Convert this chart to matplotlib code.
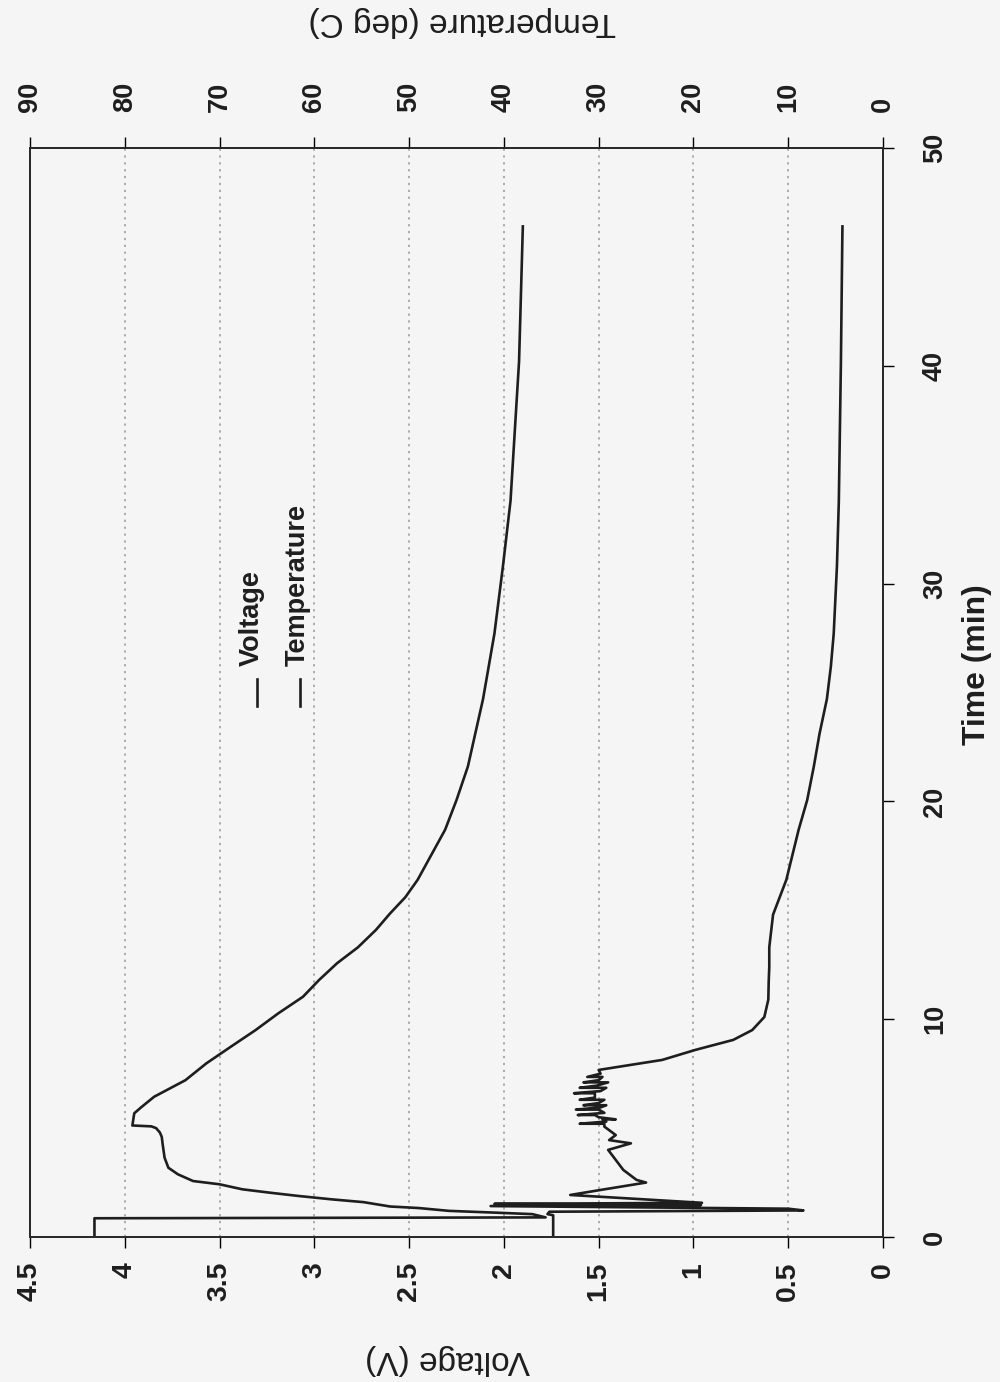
import matplotlib
matplotlib.use('Agg')
import matplotlib.pyplot as plt
from matplotlib import font_manager
from matplotlib.lines import Line2D

# voltage trace (V) against time (min)
volt_time = [0, 1.0, 1.05, 1.16, 1.22, 1.30, 1.42, 1.47, 1.52, 1.57, 1.93, 2.16, 2.5, 2.62,
             3.08, 3.54, 4.0, 4.3, 4.45, 4.68, 5.07,
             5.2, 5.2, 5.3, 5.4, 5.4, 5.5, 5.6, 5.6, 5.7, 5.85, 5.85, 5.95, 6.05, 6.05, 6.15,
             6.3, 6.3, 6.4, 6.6, 6.6, 6.7, 6.85, 6.85, 6.95, 7.1, 7.1, 7.2, 7.35, 7.35, 7.5,
             7.67, 8.13, 8.59, 9.05, 9.5, 10.1, 10.9,
             11.7, 12.4, 13.3, 14.8, 16.4, 18.7, 20.06, 21.6, 23.1, 24.7, 26.2, 27.7, 30.8,
             33.8, 40.2, 46.4]
voltage = [1.74, 1.74, 1.77, 1.76, 0.42, 0.50, 2.07, 0.96, 2.05, 0.955, 1.65, 1.49, 1.25, 1.30,
           1.37, 1.41, 1.45, 1.33, 1.445, 1.41, 1.47,
           1.47, 1.60, 1.46, 1.48, 1.41, 1.50, 1.52, 1.61, 1.47, 1.50, 1.62, 1.49, 1.46, 1.58, 1.50,
           1.47, 1.60, 1.52, 1.52, 1.63, 1.49, 1.46, 1.60, 1.51, 1.45, 1.58, 1.50, 1.48, 1.56, 1.49,
           1.50, 1.165, 0.99, 0.79, 0.69, 0.626, 0.605,
           0.603, 0.60, 0.60, 0.58, 0.51, 0.445, 0.40, 0.365, 0.335, 0.296, 0.275, 0.26, 0.243,
           0.233, 0.222, 0.214]

# temperature trace (deg C) against time (min)
temp_time = [0, 0.86, 0.90, 1.05, 1.12, 1.2, 1.33, 1.4, 1.6, 1.73, 1.89, 2.03, 2.19, 2.42,
             2.57, 2.88, 3.18, 3.64, 4.25, 4.6, 4.8, 5.0, 5.08, 5.12, 5.68, 5.98, 6.44, 7.2,
             7.97, 8.74, 9.5, 10.27, 11.03, 11.8, 12.57, 13.3, 14.1, 14.86, 15.6, 16.4, 18.7,
             20.06, 21.6, 24.7, 27.7, 30.8, 33.8, 40.2, 46.4]
temperature = [83.2, 83.2, 35.6, 37.0, 41.0, 45.8, 49.0, 52.0, 54.8, 58.2, 61.8, 64.6, 67.6, 70.0,
               72.8, 74.4, 75.4, 75.8, 76.0, 76.1, 76.3, 76.7, 77.2, 79.2, 79.0, 78.2, 76.9, 73.6,
               71.4, 68.8, 66.2, 63.8, 61.2, 59.5, 57.6, 55.4, 53.5, 52.0, 50.4, 49.1, 46.2,
               45.0, 43.8, 42.2, 41.0, 40.1, 39.3, 38.4, 38.0]

volt_ticks = [0, 0.5, 1, 1.5, 2, 2.5, 3, 3.5, 4, 4.5]
volt_labels = ['0', '0.5', '1', '1.5', '2', '2.5', '3', '3.5', '4', '4.5']
temp_ticks = [0, 10, 20, 30, 40, 50, 60, 70, 80, 90]
time_ticks = [0, 10, 20, 30, 40, 50]

names = {f.name for f in font_manager.fontManager.ttflist}
if 'Liberation Sans Narrow' in names:
    NARROW, k = 'Liberation Sans Narrow', 1.0
else:
    NARROW, k = 'Liberation Sans', 0.85

BG = '#f5f5f5'
INK = '#1e1e1e'

fig = plt.figure(figsize=(10, 13.82), dpi=100, facecolor=BG)
ax = fig.add_axes([0.030, 145 / 1382, 0.853, 1089 / 1382], facecolor=BG)

ax.plot(voltage, volt_time, color=INK, lw=1.9)
ax.set_xlim(4.5, 0)
ax.set_ylim(0, 50)
ax.set_xticks(volt_ticks)
ax.set_xticklabels(volt_labels)
ax.set_yticks(time_ticks)
ax.yaxis.tick_right()
ax.grid(axis='x', linestyle=(0, (1.5, 3)), color='#999999', lw=1.1)
ax.grid(axis='y', visible=False)
ax.tick_params(axis='x', direction='out', length=8, width=1, pad=10, labelrotation=90,
               labelsize=24 * k, labelcolor=INK, labelfontfamily=NARROW)
ax.tick_params(axis='y', direction='out', length=8, width=1, pad=20, labelrotation=90,
               labelsize=23 * k, labelcolor=INK, labelfontfamily=NARROW)
for lab in ax.get_xticklabels() + ax.get_yticklabels():
    lab.set_fontweight('bold')
for lab in ax.get_yticklabels():
    lab.set_verticalalignment('center')

ax2 = ax.twiny()
ax2.plot(temperature, temp_time, color=INK, lw=1.9)
ax2.set_xlim(90, 0)
ax2.set_xticks(temp_ticks)
ax2.tick_params(axis='x', direction='out', length=8, width=1, pad=18, labelrotation=90,
                labelsize=23 * k, labelcolor=INK, labelfontfamily=NARROW)
for lab in ax2.get_xticklabels():
    lab.set_fontweight('bold')

for a in (ax, ax2):
    for s in a.spines.values():
        s.set_color('#2a2a2a')
        s.set_linewidth(1.4)

# legend, written sideways like the rest of the page
for xf, lx, txt in [(0.2605, 0.2657, 'Voltage'), (0.3135, 0.3165, 'Temperature')]:
    ax.add_line(Line2D([lx, lx], [0.4875, 0.5125], transform=ax.transAxes, color=INK, lw=1.9))
    ax.text(xf, 0.524, txt, transform=ax.transAxes, rotation=90, ha='center', va='bottom',
            fontsize=19.5, fontweight='bold', family='Liberation Sans', color=INK)

fig.text(0.447, 1 - 1360 / 1382, 'Voltage (V)', rotation=180, ha='center', va='center',
         fontsize=24, family='Liberation Sans', color=INK)
fig.text(0.462, 1 - 22 / 1382, 'Temperature (deg C)', rotation=180, ha='center', va='center',
         fontsize=24, family='Liberation Sans', color=INK)
fig.text(0.977, 1 - 665 / 1382, 'Time (min)', rotation=90, ha='center', va='center',
         fontsize=27 * k, fontweight='bold', family=NARROW, color=INK)

fig.savefig('out.png', dpi=100, facecolor=BG)
